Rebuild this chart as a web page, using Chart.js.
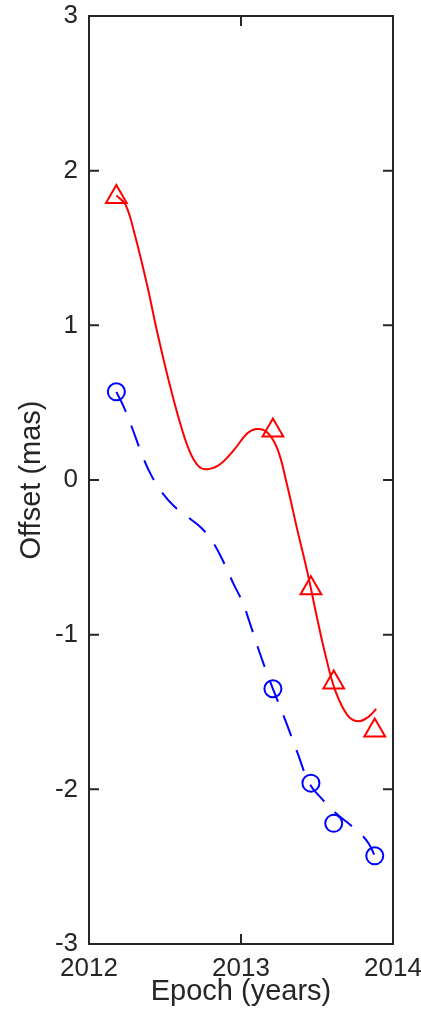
<!DOCTYPE html>
<html>
<head>
<meta charset="utf-8">
<script src="https://cdn.jsdelivr.net/npm/chart.js@4.4.1/dist/chart.umd.min.js"></script>
<style>
  html, body { margin: 0; padding: 0; background: #ffffff; }
  #wrap { width: 421px; height: 1011px; }
</style>
</head>
<body>
<div id="wrap"><canvas id="c" width="421" height="1011"></canvas></div>
<script>
// ---- data ----
const epochs = [2012.18, 2013.21, 2013.46, 2013.61, 2013.88];
const triangleOffsets = [1.83, 0.32, -0.70, -1.31, -1.62];
const circleOffsets = [0.57, -1.35, -1.96, -2.22, -2.43];

const redCurveX = [2012.18, 2012.24, 2012.30, 2012.38, 2012.45, 2012.52, 2012.59, 2012.66, 2012.72, 2012.78,
                   2012.86, 2012.95, 2013.04, 2013.10, 2013.17, 2013.24, 2013.30, 2013.37, 2013.44, 2013.50,
                   2013.56, 2013.62, 2013.70, 2013.77, 2013.84, 2013.89];
const redCurveY = [1.84, 1.78, 1.59, 1.27, 0.95, 0.66, 0.40, 0.19, 0.09, 0.07,
                   0.10, 0.19, 0.30, 0.33, 0.31, 0.20, -0.02, -0.32, -0.61, -0.89,
                   -1.15, -1.36, -1.52, -1.56, -1.53, -1.48];

const blueCurveX = [2012.18, 2012.23, 2012.29, 2012.35, 2012.41, 2012.48, 2012.56, 2012.65, 2012.74, 2012.82,
                    2012.89, 2012.95, 2013.01, 2013.06, 2013.11, 2013.16, 2013.21, 2013.29, 2013.37, 2013.45,
                    2013.54, 2013.63, 2013.72, 2013.79, 2013.84, 2013.88];
const blueCurveY = [0.57, 0.47, 0.32, 0.16, 0.03, -0.08, -0.17, -0.24, -0.31, -0.41,
                    -0.54, -0.67, -0.79, -0.93, -1.08, -1.22, -1.35, -1.55, -1.76, -1.96,
                    -2.07, -2.16, -2.23, -2.29, -2.35, -2.43];

const xTicks = [2012, 2013, 2014];
const yTicks = [-3, -2, -1, 0, 1, 2, 3];
const xTitle = 'Epoch (years)';
const yTitle = 'Offset (mas)';

// ---- build ----
const toPts = (xs, ys) => xs.map((x, i) => ({ x: x, y: ys[i] }));
const AXIS_COLOR = '#262626';
const FONT = '"Liberation Sans", Arial, Helvetica, sans-serif';

const boxTicks = {
  id: 'boxTicks',
  beforeDatasetsDraw(chart) {
    const { ctx, chartArea: a, scales } = chart;
    const L = 10;
    ctx.save();
    ctx.strokeStyle = AXIS_COLOR;
    ctx.lineWidth = 2;
    ctx.beginPath();
    scales.x.ticks.forEach(t => {
      const px = scales.x.getPixelForValue(t.value);
      ctx.moveTo(px, a.bottom); ctx.lineTo(px, a.bottom - L);
      ctx.moveTo(px, a.top); ctx.lineTo(px, a.top + L);
    });
    scales.y.ticks.forEach(t => {
      const py = scales.y.getPixelForValue(t.value);
      ctx.moveTo(a.left, py); ctx.lineTo(a.left + L, py);
      ctx.moveTo(a.right, py); ctx.lineTo(a.right - L, py);
    });
    ctx.stroke();
    ctx.strokeRect(a.left, a.top, a.right - a.left, a.bottom - a.top);
    ctx.restore();
  }
};

const zeroPad = s => { s.paddingLeft = 0; s.paddingRight = 0; s.paddingTop = 0; s.paddingBottom = 0; };

new Chart(document.getElementById('c'), {
  type: 'scatter',
  data: {
    datasets: [
      {
        data: toPts(redCurveX, redCurveY),
        showLine: true,
        borderColor: '#ff0000',
        borderWidth: 2,
        pointRadius: 0,
        tension: 0.4,
        fill: false
      },
      {
        data: toPts(blueCurveX, blueCurveY),
        showLine: true,
        borderColor: '#0000ff',
        borderWidth: 2,
        borderDash: [22, 15],
        pointRadius: 0,
        tension: 0.4,
        fill: false
      },
      {
        data: toPts(epochs, triangleOffsets),
        showLine: false,
        pointStyle: 'triangle',
        pointRadius: 12,
        pointBorderColor: '#ff0000',
        pointBackgroundColor: 'rgba(0,0,0,0)',
        pointBorderWidth: 2
      },
      {
        data: toPts(epochs, circleOffsets),
        showLine: false,
        pointStyle: 'circle',
        pointRadius: 8.5,
        pointBorderColor: '#0000ff',
        pointBackgroundColor: 'rgba(0,0,0,0)',
        pointBorderWidth: 2
      }
    ]
  },
  options: {
    responsive: false,
    animation: false,
    devicePixelRatio: 1,
    layout: { autoPadding: false, padding: { top: 16, right: 28, left: 0, bottom: 0 } },
    plugins: { legend: { display: false }, tooltip: { enabled: false } },
    scales: {
      x: {
        type: 'linear',
        min: xTicks[0],
        max: xTicks[xTicks.length - 1],
        afterBuildTicks: s => { s.ticks = xTicks.map(v => ({ value: v })); },
        afterFit: s => { s.height = 67; zeroPad(s); },
        grid: { display: false, drawTicks: false },
        border: { display: false },
        ticks: {
          color: AXIS_COLOR,
          font: { family: FONT, size: 26 },
          padding: 9,
          maxRotation: 0,
          autoSkip: false,
          callback: v => String(v)
        },
        title: {
          display: true,
          text: xTitle,
          color: AXIS_COLOR,
          font: { family: FONT, size: 29 },
          padding: { top: 0, bottom: 2 }
        }
      },
      y: {
        type: 'linear',
        min: yTicks[0],
        max: yTicks[yTicks.length - 1],
        afterBuildTicks: s => { s.ticks = yTicks.map(v => ({ value: v })); },
        afterFit: s => { s.width = 89; zeroPad(s); },
        grid: { display: false, drawTicks: false },
        border: { display: false },
        ticks: {
          color: AXIS_COLOR,
          font: { family: FONT, size: 26 },
          padding: 11,
          autoSkip: false,
          callback: v => String(v)
        },
        title: {
          display: true,
          text: yTitle,
          color: AXIS_COLOR,
          font: { family: FONT, size: 29 },
          padding: { top: 15, bottom: 0 }
        }
      }
    }
  },
  plugins: [boxTicks]
});
</script>
</body>
</html>
